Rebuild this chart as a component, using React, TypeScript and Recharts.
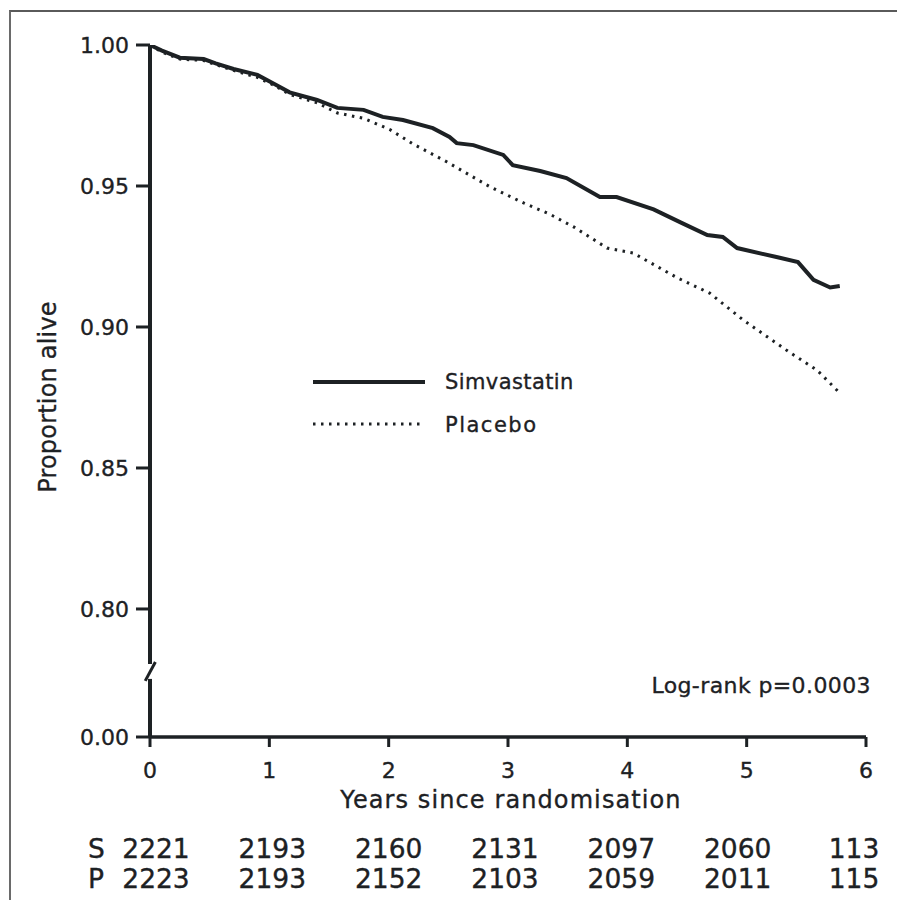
import React from 'react';
import { LineChart, Line, XAxis, YAxis, ReferenceLine, Legend, Customized } from 'recharts';

// Kaplan-Meier curves
const simTime = [0, 0.1, 0.25, 0.45, 0.55, 0.7, 0.9, 1.05, 1.17, 1.4, 1.57, 1.79, 1.95, 2.12, 2.37, 2.51, 2.57, 2.71, 2.96, 3.04, 3.27, 3.49, 3.77, 3.91, 4.22, 4.45, 4.67, 4.8, 4.92, 5.25, 5.43, 5.56, 5.7, 5.78];
const simSurv = [1.0, 0.998, 0.9955, 0.995, 0.9935, 0.9915, 0.9894, 0.986, 0.9832, 0.9805, 0.9777, 0.977, 0.9745, 0.9734, 0.9705, 0.9674, 0.9652, 0.9645, 0.961, 0.9574, 0.9553, 0.9528, 0.9461, 0.9461, 0.9417, 0.937, 0.9326, 0.9319, 0.928, 0.9248, 0.923, 0.9167, 0.914, 0.9145];

const plaTime = [0, 0.1, 0.25, 0.45, 0.55, 0.7, 0.9, 1.05, 1.17, 1.4, 1.57, 1.79, 2.01, 2.2, 2.49, 2.85, 3.13, 3.35, 3.55, 3.83, 4.05, 4.42, 4.69, 4.97, 5.36, 5.59, 5.78];
const plaSurv = [1.0, 0.9975, 0.995, 0.9945, 0.993, 0.991, 0.9885, 0.9855, 0.9825, 0.9795, 0.9759, 0.974, 0.97, 0.965, 0.9585, 0.9497, 0.944, 0.94, 0.9355, 0.928, 0.9262, 0.9174, 0.912, 0.9025, 0.891, 0.8847, 0.8766];

const xTicks = [0, 1, 2, 3, 4, 5, 6];
const atRiskS = [2221, 2193, 2160, 2131, 2097, 2060, 113];
const atRiskP = [2223, 2193, 2152, 2103, 2059, 2011, 115];

// value at which the broken axis shows "0.00"
const AXIS_FLOOR = 0.7546;
const yTicks = [AXIS_FLOOR, 0.8, 0.85, 0.9, 0.95, 1.0];

const INK = '#1d2124';
const FONT = 'DejaVu Sans';
// scanned print looks a bit heavier than plain DejaVu
const TXT = { fontFamily: FONT, fill: INK, stroke: INK, strokeWidth: 0.35 };

const simData = simTime.map((t, i) => ({ t, s: simSurv[i] }));
const plaData = plaTime.map((t, i) => ({ t, p: plaSurv[i] }));

const RiskTick = (props: any) => {
  const { x, y, payload, index } = props;
  const col = x + 6 - index * 3;
  return (
    <g {...TXT}>
      <text x={x} y={y + 29} textAnchor="middle" fontSize={22}>
        {payload.value}
      </text>
      <text x={col} y={y + 109} textAnchor="middle" fontSize={26.5}>
        {atRiskS[index]}
      </text>
      <text x={col} y={y + 139} textAnchor="middle" fontSize={26.5}>
        {atRiskP[index]}
      </text>
      {index === 0 && (
        <>
          <text x={x - 62} y={y + 109} fontSize={26.5}>S</text>
          <text x={x - 62} y={y + 139} fontSize={26.5}>P</text>
        </>
      )}
    </g>
  );
};

const LegendBox = () => (
  <svg width={280} height={80} style={{ display: 'block' }}>
    <line x1={0} y1={17} x2={112} y2={17} stroke={INK} strokeWidth={4} />
    <text x={132} y={24} fontSize={21} letterSpacing={0.4} {...TXT}>Simvastatin</text>
    <line x1={0} y1={59} x2={112} y2={59} stroke={INK} strokeWidth={3} strokeDasharray="2.5 5.5" />
    <text x={132} y={67} fontSize={21} letterSpacing={1.5} {...TXT}>Placebo</text>
  </svg>
);

const Annotations = () => (
  <g {...TXT}>
    <text x={56} y={397} fontSize={24} letterSpacing={0.2} textAnchor="middle" transform="rotate(-90, 56, 397)">
      Proportion alive
    </text>
    <text x={511} y={808} fontSize={24} letterSpacing={1.1} textAnchor="middle">
      Years since randomisation
    </text>
    <text x={871} y={693} fontSize={22} letterSpacing={0.4} textAnchor="end">
      Log-rank p=0.0003
    </text>
  </g>
);

export default function App() {
  return (
    <div style={{ position: 'absolute', left: 0, top: 0, width: 897, height: 900, background: '#fff' }}>
      <div
        style={{
          position: 'absolute',
          left: 9,
          top: 10,
          width: 888,
          height: 890,
          borderTop: '2px solid #5a5a5a',
          borderLeft: '2px solid #6a6a6a',
          boxSizing: 'border-box',
        }}
      />
      <LineChart width={897} height={900} margin={{ top: 45, right: 31, bottom: 0, left: 0 }}>
        <XAxis
          type="number"
          dataKey="t"
          domain={[0, 6]}
          ticks={xTicks}
          interval={0}
          height={163}
          tickSize={10}
          axisLine={{ stroke: INK, strokeWidth: 3.5 }}
          tickLine={{ stroke: INK, strokeWidth: 3 }}
          tick={<RiskTick />}
        />
        <YAxis
          type="number"
          domain={[AXIS_FLOOR, 1]}
          ticks={yTicks}
          interval={0}
          width={150}
          allowDataOverflow
          axisLine={false}
          tickSize={14}
          tickMargin={7}
          tickLine={{ stroke: INK, strokeWidth: 3 }}
          tickFormatter={(v: number) => (v < 0.79 ? '0.00' : v.toFixed(2))}
          tick={{ ...TXT, fontSize: 22 }}
        />
        {/* broken y axis */}
        <ReferenceLine segment={[{ x: 0, y: 0.7805 }, { x: 0, y: 1 }]} stroke={INK} strokeWidth={4} ifOverflow="visible" />
        <ReferenceLine segment={[{ x: 0, y: AXIS_FLOOR }, { x: 0, y: 0.7752 }]} stroke={INK} strokeWidth={4} ifOverflow="visible" />
        <ReferenceLine segment={[{ x: -0.04, y: 0.7745 }, { x: 0.045, y: 0.7812 }]} stroke={INK} strokeWidth={3} ifOverflow="visible" />
        <Line
          data={simData}
          dataKey="s"
          type="linear"
          stroke={INK}
          strokeWidth={4}
          dot={false}
          isAnimationActive={false}
        />
        <Line
          data={plaData}
          dataKey="p"
          type="linear"
          stroke={INK}
          strokeWidth={3}
          strokeDasharray="2.5 5.5"
          dot={false}
          isAnimationActive={false}
        />
        <Legend
          layout="vertical"
          align="center"
          verticalAlign="middle"
          content={<LegendBox />}
          wrapperStyle={{ position: 'absolute', left: 313, top: 365, width: 280, height: 80 }}
        />
        <Customized component={<Annotations />} />
      </LineChart>
    </div>
  );
}
